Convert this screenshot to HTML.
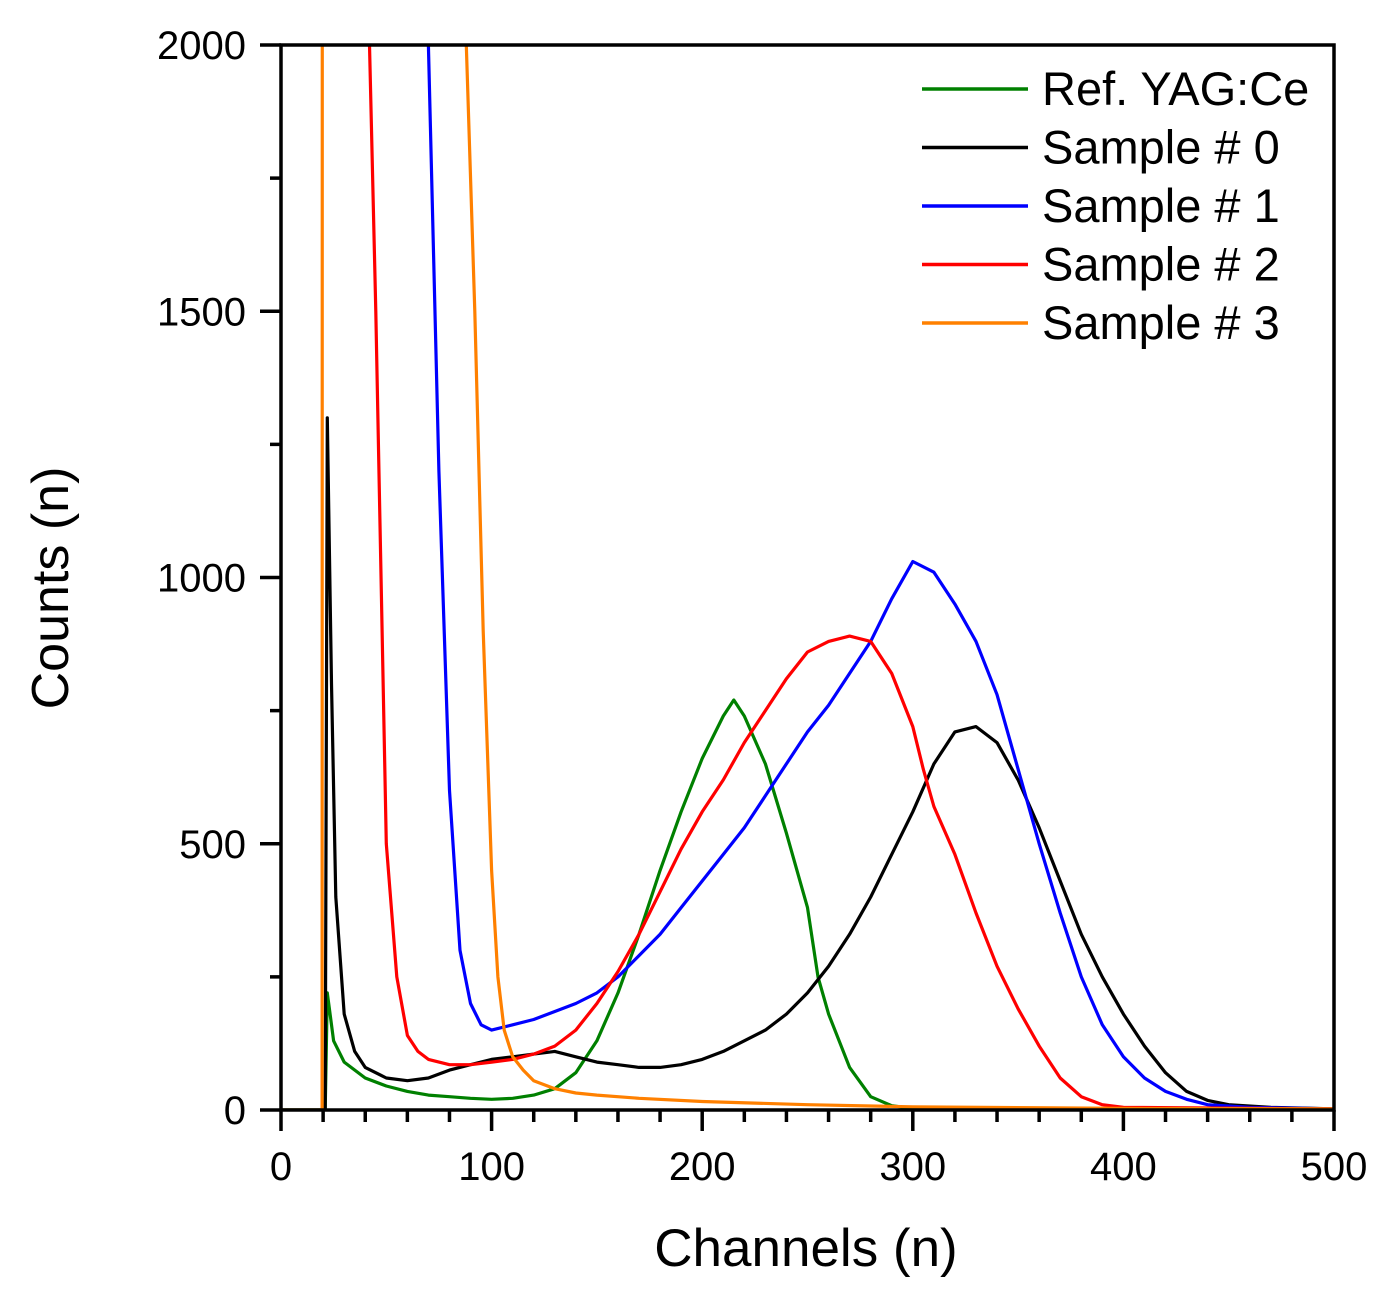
<!DOCTYPE html>
<html><head><meta charset="utf-8">
<style>
html,body{margin:0;padding:0;background:#fff;}
svg{display:block;font-family:"Liberation Sans",Arial,sans-serif;}
</style></head>
<body>
<svg id="chart" width="1387" height="1296" viewBox="0 0 1387 1296" xmlns="http://www.w3.org/2000/svg">
<defs><clipPath id="plotclip"><rect x="281" y="45" width="1053" height="1066"/></clipPath></defs>
<g id="series" clip-path="url(#plotclip)"></g>
<g id="axes"></g>
<text x="68" y="588" font-size="52" text-anchor="middle" transform="rotate(-90 68 588)">Counts (n)</text>
<text x="806" y="1266" font-size="53" text-anchor="middle">Channels (n)</text>
<g id="legend"></g>
</svg>
<script>
const xTicks=[0,100,200,300,400,500];
const yTicks=[0,500,1000,1500,2000];
const seriesNames=["Ref. YAG:Ce","Sample # 0","Sample # 1","Sample # 2","Sample # 3"];
const seriesColors=["#008000","#000000","#0000ff","#ff0000","#ff8000"];
const greenX=[0,21,22,25,30,40,50,60,70,80,90,100,110,120,130,140,150,160,170,180,190,200,210,215,220,230,240,250,255,260,270,280,290,300,500];
const greenY=[0,0,220,130,90,60,45,35,28,25,22,20,22,28,40,70,130,220,330,450,560,660,740,770,740,650,520,380,250,180,80,25,8,3,0];
const blackX=[0,21,22,24,26,30,35,40,50,60,70,80,90,100,110,120,130,140,150,160,170,180,190,200,210,220,230,240,250,260,270,280,290,300,310,320,330,340,350,360,370,380,390,400,410,420,430,440,450,470,500];
const blackY=[0,0,1300,800,400,180,110,80,60,55,60,75,85,95,100,105,110,100,90,85,80,80,85,95,110,130,150,180,220,270,330,400,480,560,650,710,720,690,620,530,430,330,250,180,120,70,35,18,10,5,2];
const blueX=[69,70,75,80,85,90,95,100,110,120,130,140,150,160,170,180,190,200,210,220,230,240,250,260,270,280,290,300,310,320,330,340,350,360,370,380,390,400,410,420,430,440,460,500];
const blueY=[2300,2000,1200,600,300,200,160,150,160,170,185,200,220,250,290,330,380,430,480,530,590,650,710,760,820,880,960,1030,1010,950,880,780,640,500,370,250,160,100,60,35,20,10,5,2];
const redX=[41,42,45,48,50,55,60,65,70,80,90,100,110,120,130,140,150,160,170,180,190,200,210,220,230,240,250,260,270,280,290,300,305,310,320,330,340,350,360,370,380,390,400,500];
const redY=[2300,2000,1500,900,500,250,140,110,95,85,85,90,95,105,120,150,200,260,330,410,490,560,620,690,750,810,860,880,890,880,820,720,640,570,480,370,270,190,120,60,25,10,5,2];
const orangeX=[0,19.5,19.6,88,92,96,100,103,106,110,115,120,130,140,150,170,200,250,300,400,500];
const orangeY=[0,0,2300,2000,1500,900,450,250,150,100,75,55,40,32,28,22,16,10,6,3,2];
const allX=[greenX,blackX,blueX,redX,orangeX];
const allY=[greenY,blackY,blueY,redY,orangeY];

const X0=281,X1=1334,Y0=1110,Y1=45;
const sx=v=>X0+(X1-X0)*v/500;
const sy=v=>Y0-(Y0-Y1)*v/2000;
const NS="http://www.w3.org/2000/svg";
function mk(tag,attrs,parent){const e=document.createElementNS(NS,tag);for(const k in attrs)e.setAttribute(k,attrs[k]);parent.appendChild(e);return e;}

const sg=document.getElementById('series');
allX.forEach((xs,i)=>{
  const d=xs.map((x,j)=>(j?'L':'M')+sx(x).toFixed(1)+','+sy(allY[i][j]).toFixed(1)).join(' ');
  const p=mk('path',{d:d,fill:'none',stroke:seriesColors[i],'stroke-width':3.2,'stroke-linejoin':'round'},sg);
  
  
});

const ag=document.getElementById('axes');
const frame=mk('rect',{x:X0,y:Y1,width:X1-X0,height:Y0-Y1,fill:'none',stroke:'#000','stroke-width':3.5},ag);


for(let v=0;v<=500;v+=20){
  const major=v%100===0;
  const t=mk('line',{x1:sx(v),x2:sx(v),y1:Y0,y2:Y0+(major?21:12),stroke:'#000','stroke-width':3.5},ag);
  
  
}
xTicks.forEach(v=>{
  const t=mk('text',{x:sx(v),y:1180,'font-size':40,'text-anchor':'middle'},ag);t.textContent=v;
  
  
});
for(let v=0;v<=2000;v+=250){
  const major=v%500===0;
  const t=mk('line',{x1:X0-(major?21:11),x2:X0,y1:sy(v),y2:sy(v),stroke:'#000','stroke-width':3.5},ag);
  
  
}
yTicks.forEach(v=>{
  const t=mk('text',{x:246,y:sy(v)+14,'font-size':40,'text-anchor':'end'},ag);t.textContent=v;
  
  
});

const lg=document.getElementById('legend');
seriesNames.forEach((n,i)=>{
  const y=89+i*58.5;
  const l=mk('line',{x1:922,x2:1028,y1:y,y2:y,stroke:seriesColors[i],'stroke-width':3.5},lg);
  
  
  const t=mk('text',{x:1042,y:y+16,'font-size':47},lg);t.textContent=n;
  
  
});
</script>
</body></html>
